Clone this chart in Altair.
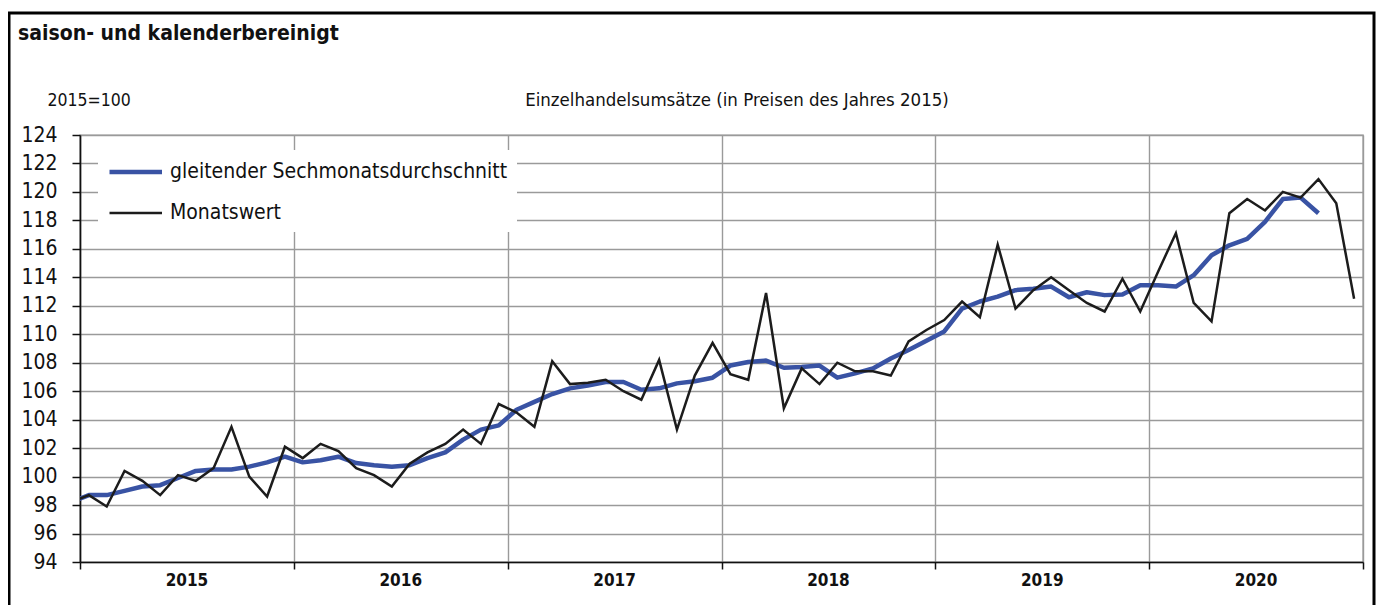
import altair as alt
import pandas as pd

FONT = "DejaVu Sans Condensed, DejaVu Sans, sans-serif"

SER_MA = "gleitender Sechmonatsdurchschnitt"
SER_M = "Monatswert"

# Monthly values, Dec 2014 .. Dec 2020 (2015=100)
monatswert = [
    98.2,
    98.7, 97.9, 100.4, 99.7, 98.7, 100.1, 99.7, 100.6, 103.5, 100.0, 98.6, 102.1,
    101.3, 102.3, 101.8, 100.6, 100.1, 99.3, 100.9, 101.7, 102.3, 103.3, 102.3, 105.1,
    104.5, 103.5, 108.1, 106.5, 106.6, 106.8, 106.0, 105.4, 108.2, 103.3, 107.1, 109.4,
    107.2, 106.8, 112.9, 104.8, 107.6, 106.5, 108.0, 107.4, 107.4, 107.1, 109.5, 110.3,
    111.0, 112.3, 111.2, 116.3, 111.8, 113.1, 114.0, 113.1, 112.2, 111.6, 113.9, 111.6,
    114.4, 117.1, 112.2, 110.9, 118.5, 119.5, 118.7, 120.0, 119.6, 120.9, 119.2, 112.5,
]

# Six-month moving average, Dec 2014 .. Oct 2020
gleitend = [
    98.2,
    98.7, 98.7, 99.0, 99.3, 99.4, 99.9, 100.4, 100.5, 100.5, 100.7, 101.0, 101.4,
    101.0, 101.15, 101.4, 100.95, 100.8, 100.7, 100.8, 101.3, 101.7, 102.6, 103.3, 103.6,
    104.7, 105.25, 105.8, 106.2, 106.4, 106.65, 106.65, 106.1, 106.2, 106.55, 106.7, 106.95,
    107.8, 108.05, 108.15, 107.65, 107.7, 107.8, 106.95, 107.25, 107.6, 108.3, 108.9, 109.55,
    110.2, 111.8, 112.3, 112.65, 113.1, 113.2, 113.35, 112.6, 112.95, 112.75, 112.8, 113.45,
    113.45, 113.35, 114.15, 115.55, 116.25, 116.7, 117.9, 119.5, 119.6, 118.5,
]

years = ["2015", "2016", "2017", "2018", "2019", "2020"]
y_ticks = list(range(94, 125, 2))

df_m = pd.DataFrame({"pos": [i - 0.5 for i in range(len(monatswert))],
                     "wert": monatswert, "serie": SER_M})
df_g = pd.DataFrame({"pos": [i - 0.5 for i in range(len(gleitend))],
                     "wert": gleitend, "serie": SER_MA})
df_y = pd.DataFrame({"pos": [12 * k + 6 for k in range(len(years))], "jahr": years})

W, H = 1283, 427

legend = alt.Legend(
    orient="none", legendX=18, legendY=15, title=None,
    symbolType="M-1,0H4", symbolSize=441,
    labelFont=FONT, labelFontSize=21, labelColor="#111111",
    labelOffset=37, rowPadding=19, padding=9,
    fillColor="white", labelLimit=800,
)

x_enc = alt.X(
    "pos:Q",
    scale=alt.Scale(domain=[0, 72], nice=False, zero=False),
    axis=alt.Axis(values=list(range(0, 73, 12)), labels=False, title=None,
                  grid=True, gridColor="#9a9a9a", gridWidth=1.4,
                  ticks=True, tickColor="#111111", tickSize=7, tickWidth=1.5,
                  domainColor="#111111", domainWidth=1.6),
)
y_enc = alt.Y(
    "wert:Q",
    scale=alt.Scale(domain=[94, 124], nice=False, zero=False),
    axis=alt.Axis(values=y_ticks, title="2015=100", titleAngle=0,
                  titleX=-33, titleY=-35, titleAlign="left", titleBaseline="middle",
                  titleFont=FONT, titleFontSize=17.5, titleFontWeight="normal",
                  titleColor="#111111",
                  labelFont=FONT, labelFontSize=21, labelColor="#111111",
                  labelPadding=15, labelOverlap=False,
                  grid=True, gridColor="#9a9a9a", gridWidth=1.4,
                  ticks=True, tickColor="#111111", tickSize=8, tickWidth=1.5,
                  domainColor="#111111", domainWidth=1.6),
)
color_enc = alt.Color("serie:N",
                      scale=alt.Scale(domain=[SER_MA, SER_M], range=["#3953a4", "#1c1c1c"]),
                      legend=legend)
sw_enc = alt.StrokeWidth("serie:N",
                         scale=alt.Scale(domain=[SER_MA, SER_M], range=[4.5, 2.5]),
                         legend=legend)

blue = alt.Chart(df_g).mark_line(clip=True, strokeJoin="round").encode(
    x=x_enc, y=y_enc, color=color_enc, strokeWidth=sw_enc)
black = alt.Chart(df_m).mark_line(clip=True, strokeJoin="miter").encode(
    x=x_enc, y=y_enc, color=color_enc, strokeWidth=sw_enc)

year_text = alt.Chart(df_y).mark_text(
    font=FONT, fontSize=17, fontWeight="bold", color="#111111", baseline="middle"
).encode(x=x_enc, y=alt.value(446), text="jahr:N")

title_text = alt.Chart(pd.DataFrame({"t": ["saison- und kalenderbereinigt"]})).mark_text(
    font=FONT, fontSize=21, fontWeight="bold", color="#111111", align="left", baseline="middle"
).encode(x=alt.value(-62), y=alt.value(-101), text="t:N")

head_text = alt.Chart(pd.DataFrame({"t": ["Einzelhandelsumsätze (in Preisen des Jahres 2015)"]})).mark_text(
    font=FONT, fontSize=18.5, color="#111111", align="center", baseline="middle"
).encode(x=alt.value(657), y=alt.value(-35), text="t:N")

frame = alt.Chart(pd.DataFrame({"a": [0]})).mark_rect(
    fillOpacity=0, stroke="#000000", strokeWidth=3
).encode(x=alt.value(-71), x2=alt.value(1294), y=alt.value(-122), y2=alt.value(500))

chart = alt.layer(blue, black, year_text, title_text, head_text, frame).properties(
    width=W, height=H,
    autosize=alt.AutoSizeParams(type="none"),
    padding={"left": 72, "top": 127, "right": 13, "bottom": 43},
    background="white",
).configure_view(stroke="#9a9a9a", strokeWidth=1.4)

chart.save("out.html", embed_options={"renderer": "svg", "actions": False})
